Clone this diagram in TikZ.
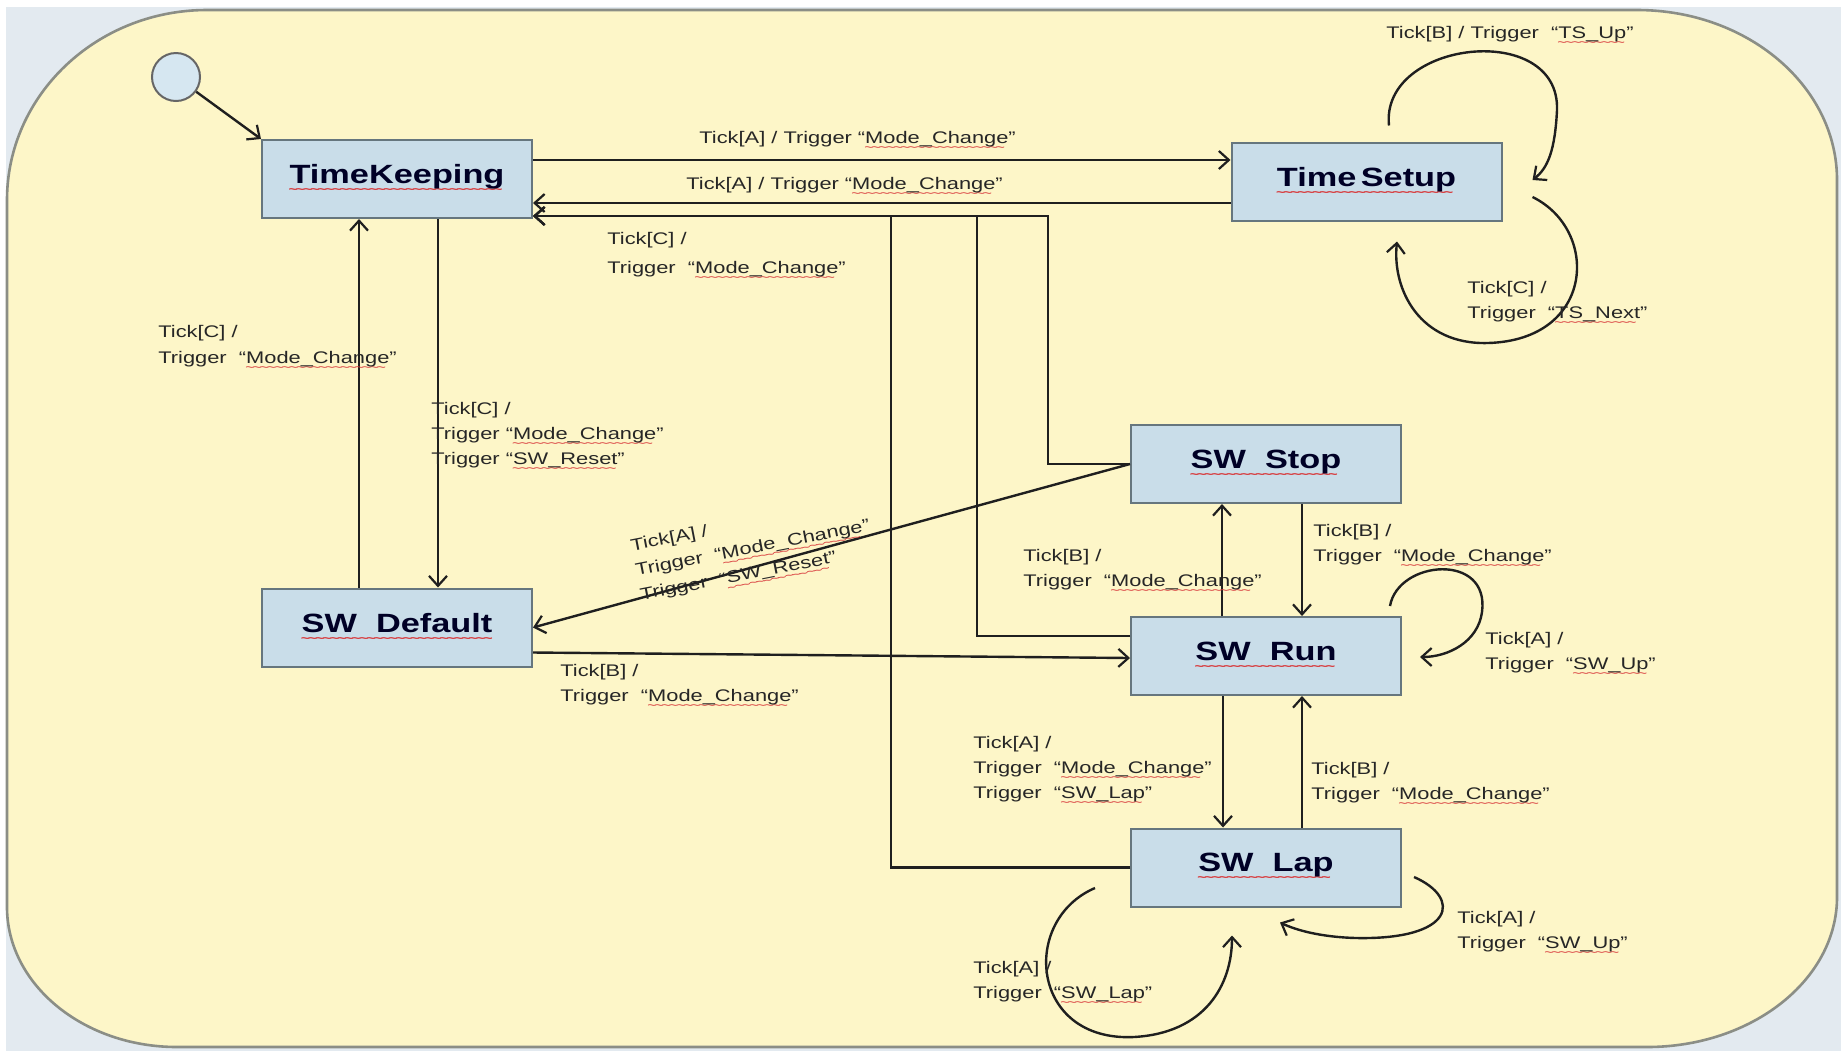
\documentclass[tikz,border=0pt]{standalone}
\usepackage{fontspec}
\setmainfont{Liberation Sans}[FakeStretch=1.3]
\usetikzlibrary{arrows.meta,calc}
\definecolor{cream}{HTML}{FDF6C8}
\definecolor{outerbg}{HTML}{E3EAF0}
\definecolor{frameln}{HTML}{8B8E86}
\definecolor{boxfill}{HTML}{C9DDE9}
\definecolor{boxln}{HTML}{66767E}
\definecolor{sqred}{HTML}{D8383A}
\definecolor{initfill}{HTML}{D6E7F1}
\newcommand\sq[2][4.2pt]{\setbox0\hbox{#2}\rlap{\textcolor{sqred}{\lower#1\hbox to \wd0{\fontsize{6}{6}\selectfont\leaders\hbox{\kern-0.45pt\char"007E\kern-0.45pt}\hfill}}}\box0}
\begin{document}
\begin{tikzpicture}[x=0.5pt,y=-0.5pt,
  lbl/.style={font=\fontsize{8.4}{12.5}\selectfont, align=left, inner sep=0pt, anchor=north west, text=black!85},
  state/.style={draw=boxln, line width=1pt, fill=boxfill, minimum width=135pt, minimum height=39pt, inner sep=0pt, font=\fontsize{13.2}{15}\selectfont\bfseries, text=black!85!blue},
  arr/.style={line width=1.2pt, draw=black!88, -{Straight Barb[length=5pt,width=9pt,line width=1.1pt]}}]
\useasboundingbox (0,0) rectangle (1841,1051);
\fill[white] (0,0) rectangle (1841,1051);
\fill[outerbg] (6,7) rectangle (1841,1051);
\draw[frameln, line width=1.3pt, fill=cream]
  (207,10) -- (1637,10) .. controls (1747.5,10) and (1837,86.1) .. (1837,180)
  -- (1837,897) .. controls (1837,979.8) and (1751.9,1047) .. (1647,1047)
  -- (177,1047) .. controls (83.1,1047) and (7,984.3) .. (7,907)
  -- (7,200) .. controls (7,95.1) and (96.5,10) .. (207,10) -- cycle;

% states
\node[circle, draw=black!60, fill=initfill, line width=1pt, minimum size=24pt, inner sep=0pt] (init) at (176,77) {};
\node[state] (TK) at (397,179) {\sq[5pt]{TimeKeeping}};
\node[state] (TS) at (1366.5,181.5) {\sq[5pt]{Time\,Setup}};
\node[state] (SWD) at (397,627.5) {\sq[5pt]{SW\ \ Default}};
\node[state] (Stop) at (1266,464) {\sq[5pt]{SW\ \ Stop}};
\node[state] (Run) at (1266,656) {\sq[5pt]{SW\ \ Run}};
\node[state] (Lap) at (1266,867.5) {\sq[5pt]{SW\ \ Lap}};

% connectors
\draw[arr] (init) -- (TK.north west);
\draw[arr] ($(TK.east)+(0,-19)$) -- ($(TS.west)+(0,-21.5)$);
\draw[arr] ($(TS.west)+(0,21.5)$) -- ($(TK.east)+(0,24)$);
\coordinate (J) at ($(TK.east)+(0,37)$);
\coordinate (c1) at (891,216);
\coordinate (c2) at (977,216);
\coordinate (c3) at (1048,216);
\draw[arr] (Stop.west) -| (c3) -- (J);
\draw[arr] ($(Run.west)+(0,-20)$) -| (c2) -- (J);
\draw[arr] (Lap.west) -| (c1) -- (J);
\draw[arr] ($(TK.south)+(41,0)$) -- ($(SWD.north)+(41,0)$);
\draw[arr] ($(SWD.north)+(-38,0)$) -- ($(TK.south)+(-38,0)$);
\draw[arr] (Stop.west) -- (SWD.east);
\draw[arr] ($(SWD.east)+(0,25)$) -- ($(Run.west)+(0,2)$);
\draw[arr] ($(Run.north)+(-44,0)$) -- ($(Stop.south)+(-44,0)$);
\draw[arr] ($(Stop.south)+(36,0)$) -- ($(Run.north)+(36,0)$);
\draw[arr] ($(Run.south)+(-43,0)$) -- ($(Lap.north)+(-43,0)$);
\draw[arr] ($(Lap.north)+(36,0)$) -- ($(Run.south)+(36,0)$);

% self loops
\draw[arr] ($(TS.north)+(22.5,-16)$) .. controls (1380,40) and (1560,20) .. (1557,110) .. controls (1555,150) and (1548,168) .. ($(TS.east)+(30,-1.5)$);
\draw[arr] ($(TS.east)+(30,15.5)$) .. controls (1600,230) and (1595,340) .. (1488,343) .. controls (1420,345) and (1392,290) .. ($(TS.south)+(30.5,20)$);
\draw[arr] ($(Run.north east)+(-12,-10)$) .. controls (1398,560) and (1490,552) .. (1482,612) .. controls (1478,642) and (1448,657) .. ($(Run.east)+(18,1)$);
\draw[arr] ($(Lap.east)+(12,9.5)$) .. controls (1462,898) and (1455,940) .. (1356,938) .. controls (1320,937) and (1296,930) .. ($(Lap.south)+(14,15)$);
\draw[arr] ($(Lap.west)+(-35,20.5)$) .. controls (1020,920) and (1030,1042) .. (1134,1037) .. controls (1205,1033) and (1232,985) .. ($(Lap.south)+(-34,28)$);

% labels
\node[lbl] (l1) at (699,131) {Tick[A] / Trigger ``\sq{Mode\_Change}''};
\node[lbl] (l2) at (686,177) {Tick[A] / Trigger ``\sq{Mode\_Change}''};
\node[lbl, font=\fontsize{8.4}{14.5}\selectfont] (l3) at (607,232) {Tick[C] /\\Trigger\ \ ``\sq{Mode\_Change}''};
\node[lbl, font=\fontsize{8.4}{13}\selectfont] (l4) at (158,325) {Tick[C] /\\Trigger\ \ ``\sq{Mode\_Change}''};
\node[lbl] (l5) at (431,402) {Tick[C] /\\Trigger ``\sq{Mode\_Change}''\\Trigger ``\sq{SW\_Reset}''};
\node[lbl, rotate=11, font=\fontsize{8.4}{12.5}\selectfont] (l6) at (629,539) {Tick[A] /\\Trigger\ \ ``\sq{Mode\_Change}''\\Trigger\ \ ``\sq{SW\_Reset}''};
\node[lbl] (l7) at (560,664) {Tick[B] /\\Trigger\ \ ``\sq{Mode\_Change}''};
\node[lbl] (l8) at (1023,549) {Tick[B] /\\Trigger\ \ ``\sq{Mode\_Change}''};
\node[lbl] (l9) at (1313,524) {Tick[B] /\\Trigger\ \ ``\sq{Mode\_Change}''};
\node[lbl] (l10) at (1485,632) {Tick[A] /\\Trigger\ \ ``\sq{SW\_Up}''};
\node[lbl] (l11) at (973,736) {Tick[A] /\\Trigger\ \ ``\sq{Mode\_Change}''\\Trigger\ \ ``\sq{SW\_Lap}''};
\node[lbl] (l12) at (1311,762) {Tick[B] /\\Trigger\ \ ``\sq{Mode\_Change}''};
\node[lbl] (l13) at (1457,911) {Tick[A] /\\Trigger\ \ ``\sq{SW\_Up}''};
\node[lbl] (l14) at (973,961) {Tick[A] /\\Trigger\ \ ``\sq{SW\_Lap}''};
\node[lbl] (l15) at (1386,26) {Tick[B] / Trigger\ \ ``\sq{TS\_Up}''};
\node[lbl] (l16) at (1467,281) {Tick[C] /\\Trigger\ \ ``\sq{TS\_Next}''};
\end{tikzpicture}
\end{document}
